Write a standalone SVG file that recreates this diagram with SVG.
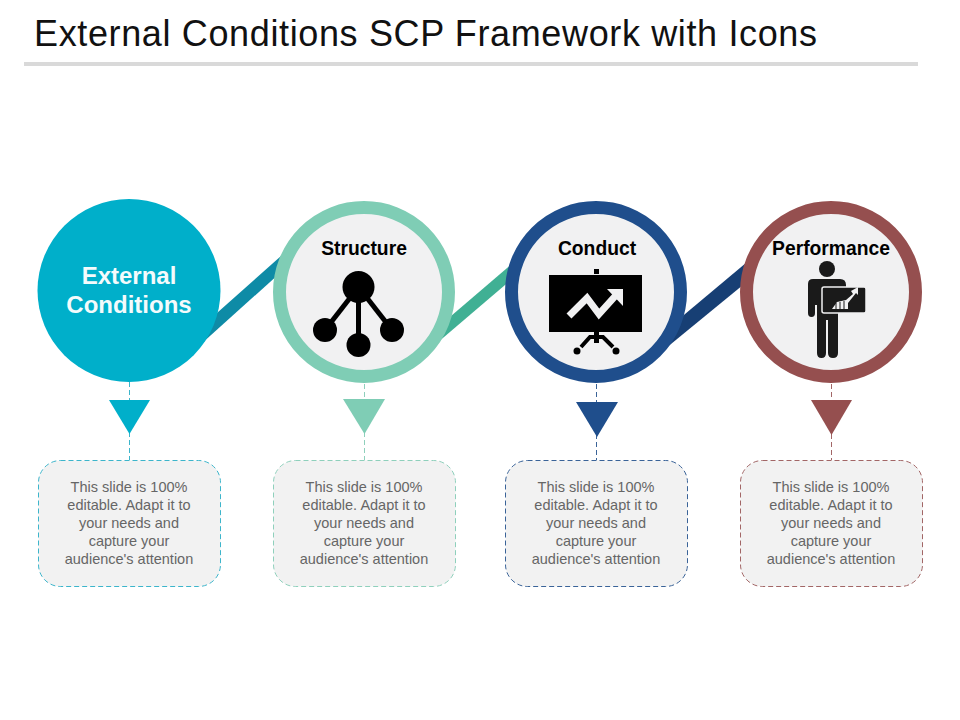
<svg xmlns="http://www.w3.org/2000/svg" width="960" height="720" viewBox="0 0 960 720">
<style>
text{font-family:"Liberation Sans",Arial,sans-serif}
.title{font-size:36px;fill:#111}
.head{font-size:19.300px;font-weight:bold;fill:#000;text-anchor:middle}
.ext{font-size:24px;font-weight:bold;fill:#f4fbfc;text-anchor:middle}
.body{font-size:14.500px;fill:#666;text-anchor:middle}
.box{fill:#f2f2f2;stroke-width:1;stroke-dasharray:5 3}
.dash{fill:none;stroke-width:1;stroke-dasharray:5 3}
.ring{fill:#f1f1f2;stroke-width:13}
</style>
<rect width="960" height="720" fill="#fff"/>
<text class="title" x="34" y="46" textLength="783" lengthAdjust="spacing">External Conditions SCP Framework with Icons</text>
<rect x="24" y="62" width="894" height="4" fill="#d9d9d9"/>
<g id="connectors">
<polygon points="190,337 290,248 290,264 190,354" fill="#0e8ba6"/>
<polygon points="430,334 520,257 525,268 430,349" fill="#40b094"/>
<polygon points="660,335 765,247 765,267 660,353" fill="#173f74"/>
<line class="dash" x1="129.500" y1="382" x2="129.500" y2="402" stroke="#3cb5cb"/>
<line class="dash" x1="129.500" y1="432" x2="129.500" y2="460" stroke="#3cb5cb"/>
<line class="dash" x1="364.500" y1="384" x2="364.500" y2="402" stroke="#8fd0bc"/>
<line class="dash" x1="364.500" y1="432" x2="364.500" y2="460" stroke="#8fd0bc"/>
<line class="dash" x1="596.500" y1="384" x2="596.500" y2="404" stroke="#3a6398"/>
<line class="dash" x1="596.500" y1="434" x2="596.500" y2="460" stroke="#3a6398"/>
<line class="dash" x1="831.500" y1="384" x2="831.500" y2="402" stroke="#a26666"/>
<line class="dash" x1="831.500" y1="434" x2="831.500" y2="460" stroke="#a26666"/>
</g>
<g id="node-external">
<circle cx="129" cy="290.500" r="91.500" fill="#00afca"/>
<text class="ext" x="129" y="284">External</text>
<text class="ext" x="129" y="313">Conditions</text>
<polygon points="109,400 150,400 129.500,434" fill="#00afca"/>
<rect class="box" x="38.500" y="460.500" width="182" height="126" rx="22" stroke="#3cb5cb"/>
<text class="body" x="129" y="492">This slide is 100%</text>
<text class="body" x="129" y="510">editable. Adapt it to</text>
<text class="body" x="129" y="528">your needs and</text>
<text class="body" x="129" y="546">capture your</text>
<text class="body" x="129" y="564">audience's attention</text>
</g>
<g id="node-structure">
<circle class="ring" cx="364" cy="292" r="84.500" stroke="#7fcdb5"/>
<text class="head" x="364" y="255">Structure</text>
<line x1="358.500" y1="287" x2="325" y2="330" stroke="#000" stroke-width="5"/>
<line x1="358.500" y1="287" x2="358.500" y2="345" stroke="#000" stroke-width="5"/>
<line x1="358.500" y1="287" x2="392" y2="330" stroke="#000" stroke-width="5"/>
<circle cx="358.500" cy="287" r="16"/>
<circle cx="325" cy="330" r="12"/>
<circle cx="358.500" cy="345" r="12"/>
<circle cx="392" cy="330" r="12"/>
<polygon points="343,399 385,399 364.500,434" fill="#7fcdb5"/>
<rect class="box" x="273.500" y="460.500" width="182" height="126" rx="22" stroke="#8fd0bc"/>
<text class="body" x="364" y="492">This slide is 100%</text>
<text class="body" x="364" y="510">editable. Adapt it to</text>
<text class="body" x="364" y="528">your needs and</text>
<text class="body" x="364" y="546">capture your</text>
<text class="body" x="364" y="564">audience's attention</text>
</g>
<g id="node-conduct">
<circle class="ring" cx="596" cy="292" r="84.500" stroke="#1f4e8c"/>
<text class="head" x="597" y="255">Conduct</text>
<rect x="594" y="269" width="5" height="5" fill="#000"/>
<rect x="549" y="275" width="93" height="57" fill="#000"/>
<polyline points="569,316 587,298 599,314 618,293" fill="none" stroke="#f1f1f2" stroke-width="7"/>
<polygon points="607,289 623,289 623,306" fill="#f1f1f2"/>
<rect x="594" y="332" width="5" height="11" fill="#000"/>
<polyline points="581,347 590,337 603,337 613,347" fill="none" stroke="#000" stroke-width="4"/>
<circle cx="577" cy="351" r="3.500" fill="#000"/>
<circle cx="616" cy="351" r="3.500" fill="#000"/>
<polygon points="576,402 618,402 597,437" fill="#1f4e8c"/>
<rect class="box" x="505.500" y="460.500" width="182" height="126" rx="22" stroke="#3a6398"/>
<text class="body" x="596" y="492">This slide is 100%</text>
<text class="body" x="596" y="510">editable. Adapt it to</text>
<text class="body" x="596" y="528">your needs and</text>
<text class="body" x="596" y="546">capture your</text>
<text class="body" x="596" y="564">audience's attention</text>
</g>
<g id="node-performance">
<circle class="ring" cx="831" cy="292" r="84.500" stroke="#954f4f"/>
<text class="head" x="831" y="255">Performance</text>
<circle cx="827" cy="269" r="8" fill="#1a1a1a"/>
<path d="M813 279H840Q846 279 846 285V300H838V353Q838 358 833 358Q828 358 828 353V320H826V353Q826 358 821.500 358Q817 358 817 353V305H815V313Q815 317 811.500 317Q808 317 808 313V284Q808 279 813 279Z" fill="#1a1a1a"/>
<rect x="822" y="287" width="44" height="26" rx="2" fill="#1a1a1a" stroke="#f1f1f2" stroke-width="1.500"/>
<path d="M832 309L837 302L846 300L853 294L851 291L858 287L858 295L856 293L848 303V309Z" fill="#f1f1f2"/>
<path d="M836 303V309M840 302V309M844 301V309" stroke="#1a1a1a" stroke-width="1" fill="none"/>
<polygon points="811,400 852,400 831.500,435" fill="#954f4f"/>
<rect class="box" x="740.500" y="460.500" width="182" height="126" rx="22" stroke="#a26666"/>
<text class="body" x="831" y="492">This slide is 100%</text>
<text class="body" x="831" y="510">editable. Adapt it to</text>
<text class="body" x="831" y="528">your needs and</text>
<text class="body" x="831" y="546">capture your</text>
<text class="body" x="831" y="564">audience's attention</text>
</g>
</svg>
